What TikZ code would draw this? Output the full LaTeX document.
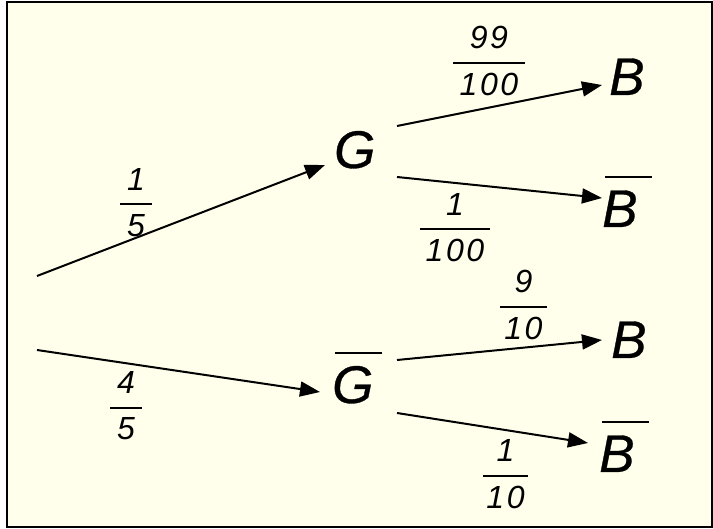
\documentclass[tikz,border=0pt]{standalone}
\usepackage{fontspec}
\setmainfont{Liberation Sans}
\newfontfamily\letterfont{Liberation Sans}[ItalicFeatures={FakeBold=0.6}]
\newfontfamily\digitfont{Liberation Sans}[LetterSpace=8]
\usetikzlibrary{arrows.meta}
\definecolor{cream}{RGB}{255,255,235}
\newcommand\ovl[1]{\vbox{\offinterlineskip\hbox{\kern3pt\vrule width 47pt height 2pt depth 0pt}\kern12pt\hbox{\smash{#1}\vrule height 37pt depth 0pt width 0pt}}}
\newcommand\fr[3]{\vbox{\offinterlineskip\hbox to #1pt{\hss #2\hss}\kern13pt\hrule height 2pt\kern9pt\hbox to #1pt{\hss #3\hss}}}
\tikzset{
  letter/.style={inner sep=0pt, anchor=base west, font=\letterfont\itshape\fontsize{53}{53}\selectfont},
  frac/.style={inner sep=0pt, anchor=center, font=\digitfont\itshape\fontsize{32}{32}\selectfont},
  branch/.style={line width=2pt, -{Triangle[length=20pt,width=15pt]}}
}
\begin{document}
\begin{tikzpicture}[x=1pt,y=-1pt]
\useasboundingbox (0,0) rectangle (713,529);
\fill[white] (0,0) rectangle (713,529);
\draw[line width=2pt, fill=cream] (7,2) rectangle (712,527);

\node[letter] (G)   at (334,168) {G};
\node[letter] (Gb)  at (332,403) {\ovl{G}};
\node[letter] (B1)  at (609,95)  {B};
\node[letter] (Bb1) at (602,227) {\ovl{B}};
\node[letter] (B2)  at (611,358) {B};
\node[letter] (Bb2) at (599,472) {\ovl{B}};

\coordinate (r1) at (37,276);
\coordinate (r2) at (37,350);

\draw[branch] (r1) -- ([shift={(-9,-3)}]G.base west);
\draw[branch] (r2) -- ([shift={(-12,-11)}]Gb.base west);
\draw[branch] ([shift={(63,-42)}]G.base west) -- ([shift={(-7,-10)}]B1.base west);
\draw[branch] ([shift={(63,9)}]G.base west) -- ([shift={(0,-29)}]Bb1.base west);
\draw[branch] ([shift={(65,-43)}]Gb.base west) -- ([shift={(-9,-18)}]B2.base west);
\draw[branch] ([shift={(65,10)}]Gb.base west) -- ([shift={(-11,-29)}]Bb2.base west);

\node[frac] (f1) at (136,202.5) {\fr{32}{1}{5}};
\node[frac] (f2) at (126,406)   {\fr{32}{4}{5}};
\node[frac] (f3) at (489,61)    {\fr{72}{99}{100}};
\node[frac] (f4) at (455,227.5) {\fr{70}{1}{100}};
\node[frac] (f5) at (523.5,305) {\fr{47}{9}{10}};
\node[frac] (f6) at (505.5,474) {\fr{45}{1}{10}};
\end{tikzpicture}
\end{document}
